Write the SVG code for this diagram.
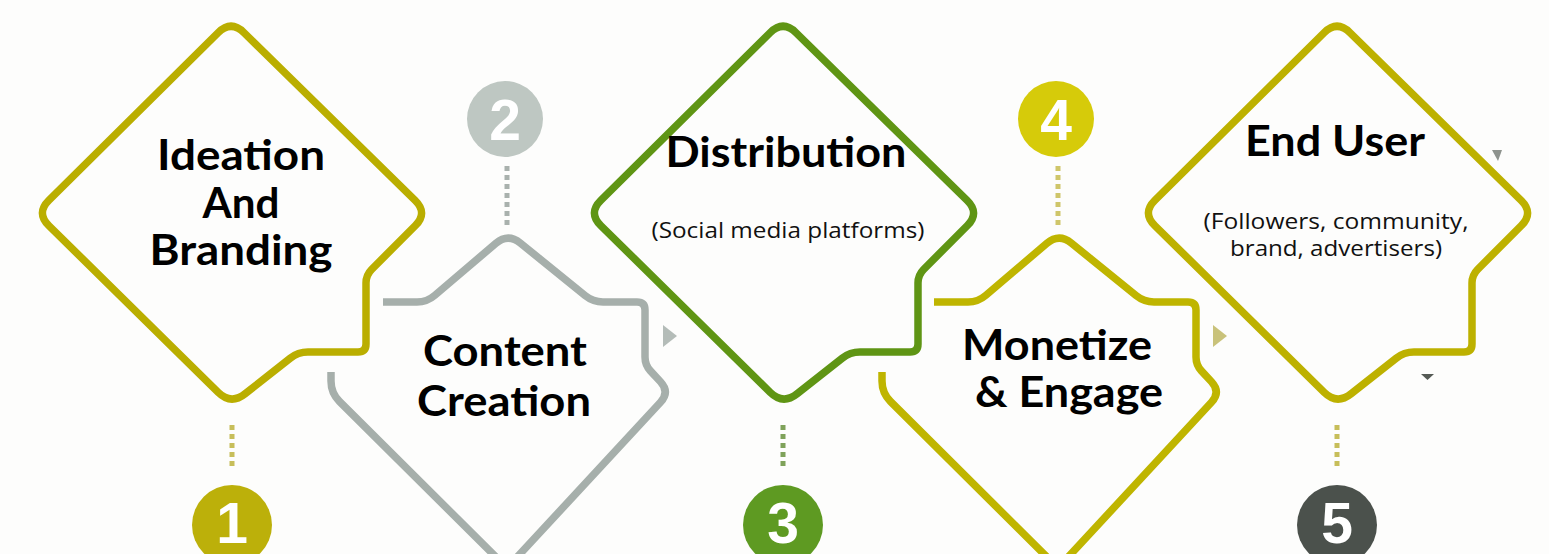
<svg xmlns="http://www.w3.org/2000/svg" xmlns:xlink="http://www.w3.org/1999/xlink" width="1549" height="554" viewBox="0 0 1549 554">
<defs>
<style>
.shape{fill:none;stroke-width:7.5;stroke-linejoin:round;stroke-linecap:butt}
.big{font-family:Lato,"Liberation Sans",sans-serif;font-weight:bold;font-size:42px;fill:#000;text-anchor:middle}
.small{font-family:"Open Sans","Liberation Sans",sans-serif;font-size:21px;fill:#111;text-anchor:middle}
.num{font-family:"Liberation Sans",Arial,sans-serif;font-weight:bold;font-size:57px;fill:#fff;text-anchor:middle}
.dots{fill:none;stroke-width:5;stroke-dasharray:5 4}
</style>
<path id="oddShape" d="M243.9,32.6 L415.1,200.4 Q428,213 415.3,225.7 L371.7,269.3 Q366,275 366,283 L366,344 Q366,352 358,352 L308,352 Q298,352 290.2,358.2 L245.1,393.8 Q231,405 218.2,392.4 L48.8,225.6 Q36,213 48.8,200.3 L218.2,32.7 Q231,20 243.9,32.6 Z"/>
<path id="evenShape" d="M383,302 L417,302 Q427,302 434.6,295.5 L495.8,243.4 Q508,233 520.4,243.1 L585.2,295.7 Q593,302 603,302 L637,302 Q645,302 645,310 L645,357 Q645,365 650.4,370.9 L660.5,381.7 Q670,392 660.5,402.3 L507,568 L339.5,401.5 Q331,393 331,381 L331,372"/>
</defs>
<rect x="0" y="0" width="1549" height="554" fill="#FDFDFC"/>

<g id="connectors">
<line class="dots" x1="232" y1="425" x2="232" y2="466" stroke="#C7BE5A"/>
<line class="dots" x1="507" y1="166" x2="507" y2="225" stroke="#A9B1AD"/>
<line class="dots" x1="783" y1="425" x2="783" y2="466" stroke="#7FA25A"/>
<line class="dots" x1="1058" y1="166" x2="1058" y2="225" stroke="#CFC66A"/>
<line class="dots" x1="1337" y1="425" x2="1337" y2="466" stroke="#C7BE5A"/>
<polygon points="663,325 663,347 677,336" fill="#B4BCB8"/>
<polygon points="1213,325 1213,347 1227,336" fill="#C9C27A"/>
<polygon points="1492,150 1502,150 1498,161" fill="#8E938E"/>
<polygon points="1421,374 1434,374 1427.5,380" fill="#555A55"/>
</g>

<g id="node1">
<use xlink:href="#oddShape" href="#oddShape" class="shape" stroke="#BAAE00"/>
<text class="big" x="241" y="170" textLength="168" lengthAdjust="spacingAndGlyphs">Ideation</text>
<text class="big" x="241" y="218" textLength="77" lengthAdjust="spacingAndGlyphs">And</text>
<text class="big" x="241" y="265" textLength="183" lengthAdjust="spacingAndGlyphs">Branding</text>
<circle cx="232" cy="525" r="40" fill="#BCB00A"/>
<text class="num" x="232" y="543">1</text>
</g>

<g id="node2">
<use xlink:href="#evenShape" href="#evenShape" class="shape" stroke="#A6AFAB"/>
<text class="big" x="505" y="366" textLength="164" lengthAdjust="spacingAndGlyphs">Content</text>
<text class="big" x="504" y="416" textLength="174" lengthAdjust="spacingAndGlyphs">Creation</text>
<circle cx="505" cy="119" r="38" fill="#BEC7C2"/>
<text class="num" x="505" y="140">2</text>
</g>

<g id="node3">
<use xlink:href="#oddShape" href="#oddShape" class="shape" stroke="#5F9514" transform="translate(552,0)"/>
<text class="big" x="786" y="167" textLength="241" lengthAdjust="spacingAndGlyphs">Distribution</text>
<text class="small" x="788" y="238" textLength="273" lengthAdjust="spacingAndGlyphs">(Social media platforms)</text>
<circle cx="783" cy="525" r="40" fill="#5E9A22"/>
<text class="num" x="783" y="543">3</text>
</g>

<g id="node4">
<use xlink:href="#evenShape" href="#evenShape" class="shape" stroke="#BFB500" transform="translate(551,0)"/>
<text class="big" x="1057" y="360" textLength="190" lengthAdjust="spacingAndGlyphs">Monetize</text>
<text class="big" x="1069" y="407" textLength="188" lengthAdjust="spacingAndGlyphs">&amp; Engage</text>
<circle cx="1056" cy="119" r="38" fill="#D6CB0A"/>
<text class="num" x="1056" y="140">4</text>
</g>

<g id="node5">
<use xlink:href="#oddShape" href="#oddShape" class="shape" stroke="#BDB100" transform="translate(1106,0)"/>
<text class="big" x="1335" y="156" textLength="180" lengthAdjust="spacingAndGlyphs">End User</text>
<text class="small" x="1336" y="229" textLength="265" lengthAdjust="spacingAndGlyphs">(Followers, community,</text>
<text class="small" x="1336" y="256" textLength="212" lengthAdjust="spacingAndGlyphs">brand, advertisers)</text>
<circle cx="1337" cy="525" r="40" fill="#4B514C"/>
<text class="num" x="1337" y="543">5</text>
</g>
</svg>
